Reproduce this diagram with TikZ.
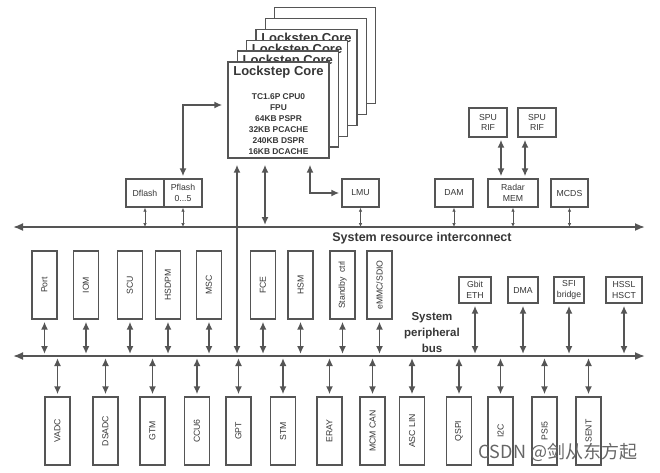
\documentclass[tikz,border=0pt]{standalone}
\usepackage{fontspec}
\setmainfont{Liberation Sans}
\newfontfamily\cjkfont{Noto Sans CJK SC}
\usetikzlibrary{arrows.meta}
\definecolor{linegray}{RGB}{85,85,85}
\definecolor{textgray}{RGB}{55,55,55}

\begin{document}
\begin{tikzpicture}[x=1pt,y=-1pt,>={Latex[length=8pt,width=7pt]}]

% --- Styles ---
\tikzset{
    unit/.style={draw=linegray, line width=1.4pt, fill=white, inner sep=0pt,
        text=textgray, align=center, font=\fontsize{8.7}{10.5}\selectfont},
    vunit/.style={unit, minimum width=25pt, minimum height=68pt},
    hunit/.style={unit, minimum width=38pt, minimum height=28pt},
    core/.style={draw=linegray, line width=1.4pt, fill=white,
        minimum width=101pt, minimum height=96pt, inner sep=0pt},
    coretitle/.style={text=textgray, font=\fontsize{13}{15}\selectfont\bfseries},
    corebody/.style={text=textgray, align=center, font=\fontsize{8.4}{11}\selectfont\bfseries},
    bus/.style={<->, >={Latex[length=10pt,width=8pt]}, draw=linegray, line width=1.8pt},
    link/.style={<->, draw=linegray, line width=1.7pt, shorten >=2pt, shorten <=2pt},
    thinlink/.style={<->, >={Latex[length=4pt,width=3.5pt]}, draw=linegray, line width=0.7pt},
    buslabel/.style={text=textgray, align=center, font=\fontsize{12.5}{16}\selectfont\bfseries}
}

\useasboundingbox (0,0) rectangle (660,472);

% Lockstep cores, back to front
\node[core] (core5) at (325.0,55.5) {};
\node[core] (core4) at (315.7,66.4) {};
\node[core] (core3) at (306.4,77.3) {};
\node[coretitle] at ([yshift=-11pt]core3.north) {Lockstep Core};
\node[core] (core2) at (297.1,88.2) {};
\node[coretitle] at ([yshift=-11pt]core2.north) {Lockstep Core};
\node[core] (core1) at (287.8,99.1) {};
\node[coretitle] at ([yshift=-11pt]core1.north) {Lockstep Core};
\node[core] (cpu) at (278.5,110) {};
\node[coretitle] (cputitle) at ([yshift=-11pt]cpu.north) {Lockstep Core};
\node[corebody] (cpubody) at ([yshift=-14.5pt]cpu.center)
    {TC1.6P CPU0\\FPU\\64KB PSPR\\32KB PCACHE\\240KB DSPR\\16KB DCACHE};

% Units on the system resource interconnect
\node[hunit] (dflash) at (145,193) {Dflash};
\node[hunit] (pflash) at (183,193) {Pflash\\0...5};
\node[hunit, minimum width=37pt] (lmu) at (360.5,193) {LMU};
\node[hunit] (dam) at (454,193) {DAM};
\node[hunit, minimum width=50pt] (radar) at (513,193) {Radar\\MEM};
\node[hunit, minimum width=37pt] (mcds) at (569.5,193) {MCDS};
\node[hunit, minimum height=29pt] (spua) at (488,122.5) {SPU\\RIF};
\node[hunit, minimum height=29pt] (spub) at (537,122.5) {SPU\\RIF};

% Units between the two buses
\node[vunit] (port) at (44.5,285) {\rotatebox{90}{Port}};
\node[vunit] (iom) at (86,285) {\rotatebox{90}{IOM}};
\node[vunit] (scu) at (130,285) {\rotatebox{90}{SCU}};
\node[vunit] (hsdpm) at (168,285) {\rotatebox{90}{HSDPM}};
\node[vunit] (msc) at (209,285) {\rotatebox{90}{MSC}};
\node[vunit] (fce) at (263,285) {\rotatebox{90}{FCE}};
\node[vunit] (hsm) at (300.5,285) {\rotatebox{90}{HSM}};
\node[vunit] (standby) at (342.5,285) {\rotatebox{90}{Standby\enspace ctrl}};
\node[vunit] (emmc) at (379.5,285) {\rotatebox{90}{eMMC/SDIO}};
\node[hunit, minimum width=32pt, minimum height=26pt] (geth) at (475,290) {Gbit\\ETH};
\node[hunit, minimum width=30pt, minimum height=26pt] (dma) at (523,290) {DMA};
\node[hunit, minimum width=30pt, minimum height=26pt] (sfi) at (569,290) {SFI\\bridge};
\node[hunit, minimum width=36pt, minimum height=26pt] (hssl) at (624,290) {HSSL\\HSCT};

% Units below the system peripheral bus
\node[vunit] (vadc) at (57.5,431) {\rotatebox{90}{VADC}};
\node[vunit] (dsadc) at (105.5,431) {\rotatebox{90}{DSADC}};
\node[vunit] (gtm) at (152.5,431) {\rotatebox{90}{GTM}};
\node[vunit] (ccu) at (197,431) {\rotatebox{90}{CCU6}};
\node[vunit] (gpt) at (238.5,431) {\rotatebox{90}{GPT}};
\node[vunit] (stm) at (283,431) {\rotatebox{90}{STM}};
\node[vunit] (eray) at (329.5,431) {\rotatebox{90}{ERAY}};
\node[vunit] (mcmcan) at (372.5,431) {\rotatebox{90}{MCM CAN}};
\node[vunit] (asclin) at (412,431) {\rotatebox{90}{ASC LIN}};
\node[vunit] (qspi) at (459,431) {\rotatebox{90}{QSPI}};
\node[vunit] (iic) at (500.5,431) {\rotatebox{90}{I2C}};
\node[vunit] (psi) at (544.5,431) {\rotatebox{90}{PSI5}};
\node[vunit] (sent) at (588.5,431) {\rotatebox{90}{SENT}};

% Bus labels (drawn before the buses)
\node[buslabel] (srilabel) at (422,238) {System resource interconnect};
\node[buslabel, font=\fontsize{11.5}{16}\selectfont\bfseries] (spblabel) at (432,333)
    {System\\peripheral\\bus};

% The two buses
\coordinate (sriL) at (13,227);
\coordinate (sriR) at (645,227);
\coordinate (spbL) at (13,356);
\coordinate (spbR) at (645,356);
\draw[bus] (sriL) -- (sriR);
\draw[bus] (spbL) -- (spbR);

% Lockstep core connections
\draw[link, shorten >=5pt] (pflash.north) |- ([yshift=5pt]cpu.west);
\draw[link, shorten <=6pt] ([xshift=-41.5pt]cpu.south) -- ([xshift=-41.5pt]cpu.south |- spbL);
\draw[link, shorten <=6pt] ([xshift=-13.5pt]cpu.south) -- ([xshift=-13.5pt]cpu.south |- sriL);
\draw[link, shorten <=6pt] ([xshift=31.5pt]cpu.south) |- (lmu.west);

% SPU to radar memory
\draw[link] ([xshift=13pt]spua.south) -- ([xshift=13pt]spua.south |- radar.north);
\draw[link] ([xshift=-12pt]spub.south) -- ([xshift=-12pt]spub.south |- radar.north);

% Thin links to the system resource interconnect
\draw[thinlink] (dflash.south) -- (dflash.south |- sriL);
\draw[thinlink] (pflash.south) -- (pflash.south |- sriL);
\draw[thinlink] (lmu.south) -- (lmu.south |- sriL);
\draw[thinlink] (dam.south) -- (dam.south |- sriL);
\draw[thinlink] (radar.south) -- (radar.south |- sriL);
\draw[thinlink] (mcds.south) -- (mcds.south |- sriL);

% Links down to the system peripheral bus
\draw[link] (port.south) -- (port.south |- spbL);
\draw[link] (iom.south) -- (iom.south |- spbL);
\draw[link] (scu.south) -- (scu.south |- spbL);
\draw[link] (hsdpm.south) -- (hsdpm.south |- spbL);
\draw[link] (msc.south) -- (msc.south |- spbL);
\draw[link] (fce.south) -- (fce.south |- spbL);
\draw[link] (hsm.south) -- (hsm.south |- spbL);
\draw[link] (standby.south) -- (standby.south |- spbL);
\draw[link] (emmc.south) -- (emmc.south |- spbL);
\draw[link] (geth.south) -- (geth.south |- spbL);
\draw[link] (dma.south) -- (dma.south |- spbL);
\draw[link] (sfi.south) -- (sfi.south |- spbL);
\draw[link] (hssl.south) -- (hssl.south |- spbL);

% Links from the system peripheral bus to the lower units
\draw[link] (vadc.north |- spbL) -- (vadc.north);
\draw[link] (dsadc.north |- spbL) -- (dsadc.north);
\draw[link] (gtm.north |- spbL) -- (gtm.north);
\draw[link] (ccu.north |- spbL) -- (ccu.north);
\draw[link] (gpt.north |- spbL) -- (gpt.north);
\draw[link] (stm.north |- spbL) -- (stm.north);
\draw[link] (eray.north |- spbL) -- (eray.north);
\draw[link] (mcmcan.north |- spbL) -- (mcmcan.north);
\draw[link] (asclin.north |- spbL) -- (asclin.north);
\draw[link] (qspi.north |- spbL) -- (qspi.north);
\draw[link] (iic.north |- spbL) -- (iic.north);
\draw[link] (psi.north |- spbL) -- (psi.north);
\draw[link] (sent.north |- spbL) -- (sent.north);

% Watermark
\node[text=black!60, font=\cjkfont\fontsize{18}{20}\selectfont] (mark) at (558,452)
    {CSDN @剑从东方起};

\end{tikzpicture}
\end{document}
